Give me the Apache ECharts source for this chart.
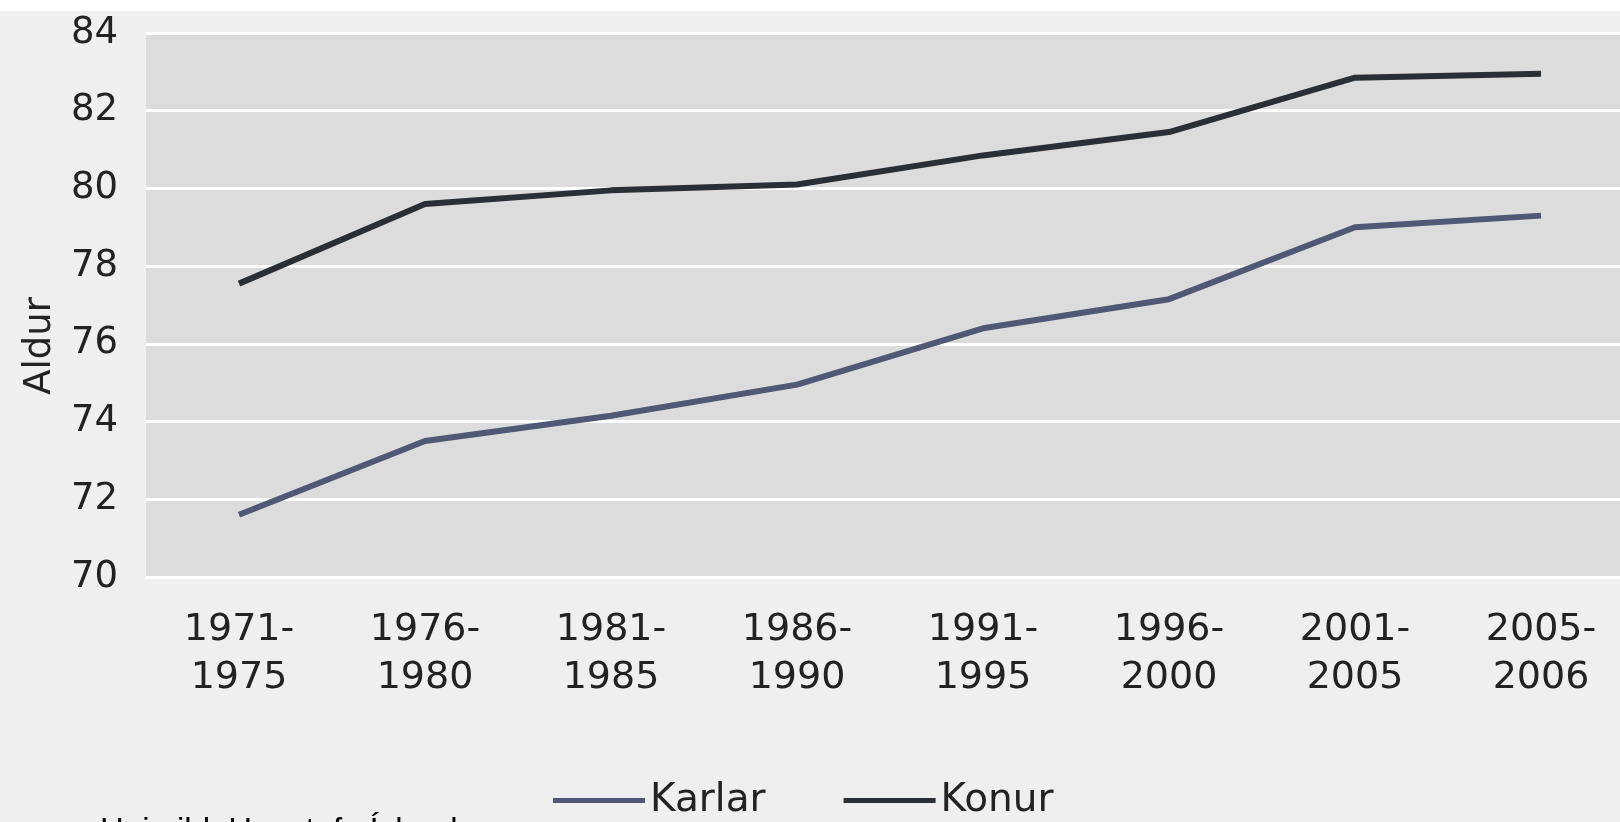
<!DOCTYPE html>
<html>
<head>
<meta charset="utf-8">
<title>Aldur</title>
<script src="https://cdn.jsdelivr.net/npm/echarts@6/dist/echarts.min.js"></script>
<style>
  html, body { margin: 0; padding: 0; overflow: hidden; background: #efefef; }
  #chart { width: 1660px; height: 822px; }
</style>
</head>
<body>
<div id="chart"></div>
<script>
// categories (5-year periods)
const periods = [
  '1971-\n1975', '1976-\n1980', '1981-\n1985', '1986-\n1990',
  '1991-\n1995', '1996-\n2000', '2001-\n2005', '2005-\n2006'
];

// life expectancy
const karlar = [71.6, 73.5, 74.15, 74.95, 76.4, 77.15, 79.0, 79.3];
const konur = [77.55, 79.6, 79.95, 80.1, 80.85, 81.45, 82.85, 82.95];

const yTicks = { min: 70, max: 84, interval: 2 };

const chart = echarts.init(document.getElementById('chart'));

chart.setOption({
  backgroundColor: '#efefef',
  animation: false,
  grid: {
    left: 146,
    right: 26,
    top: 33,
    bottom: 245,
    show: true,
    backgroundColor: '#dcdcdc',
    borderWidth: 0
  },
  legend: {
    left: 548,
    top: 776,
    icon: 'rect',
    itemWidth: 92,
    itemHeight: 5,
    itemGap: 78,
    textStyle: {
      fontFamily: 'DejaVu Sans',
      fontSize: 39,
      color: '#222'
    },
    data: ['Karlar', 'Konur']
  },
  xAxis: {
    type: 'category',
    data: periods,
    boundaryGap: true,
    axisLine: { show: false },
    axisTick: { show: false },
    axisLabel: {
      margin: 29,
      fontFamily: 'DejaVu Sans',
      fontSize: 38,
      lineHeight: 48,
      color: '#222'
    }
  },
  yAxis: {
    type: 'value',
    min: yTicks.min,
    max: yTicks.max,
    interval: yTicks.interval,
    axisLine: { show: false },
    axisTick: { show: false },
    axisLabel: {
      margin: 28,
      fontFamily: 'DejaVu Sans',
      fontSize: 37,
      color: '#222'
    },
    splitLine: {
      show: true,
      lineStyle: { color: '#ffffff', width: 3 }
    }
  },
  graphic: [
    {
      type: 'rect',
      left: 0,
      top: 0,
      shape: { width: 1660, height: 11 },
      style: { fill: '#ffffff' },
      silent: true
    },
    {
      type: 'text',
      x: 40,
      y: 346,
      rotation: Math.PI / 2,
      style: {
        text: 'Aldur',
        fontFamily: 'DejaVu Sans',
        fontSize: 37,
        fill: '#222',
        align: 'center',
        verticalAlign: 'middle'
      }
    },
    {
      type: 'text',
      x: 100,
      y: 815,
      style: {
        text: 'Heimild: Hagstofa Íslands',
        fontFamily: 'Liberation Sans',
        fontSize: 33,
        fill: '#000',
        align: 'left',
        verticalAlign: 'top'
      }
    }
  ],
  series: [
    {
      name: 'Karlar',
      type: 'line',
      data: karlar,
      symbol: 'none',
      color: '#4f5874',
      lineStyle: { width: 6, color: '#4f5874' }
    },
    {
      name: 'Konur',
      type: 'line',
      data: konur,
      symbol: 'none',
      color: '#2a2e35',
      lineStyle: { width: 6, color: '#2a2e35' }
    }
  ]
});
</script>
</body>
</html>
